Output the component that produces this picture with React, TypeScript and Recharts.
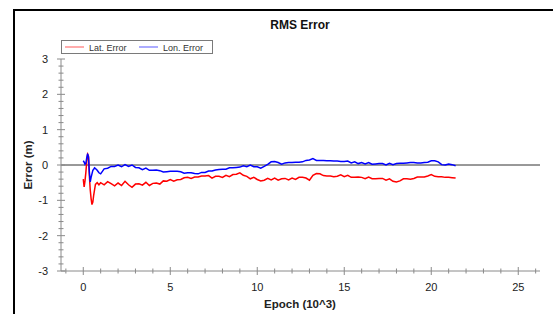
import React from "react";
import { LineChart, Line, XAxis, YAxis, ReferenceLine, Legend } from "recharts";

// Epoch in thousands
const epochs: number[] = [
  0, 0.05, 0.1, 0.15, 0.2, 0.25, 0.3, 0.35, 0.4, 0.45, 0.5, 0.55, 0.6, 0.65, 0.7, 0.8, 0.9,
  1.0, 1.2, 1.4, 1.6, 1.8, 2.0, 2.2, 2.4, 2.6, 2.8, 3.0, 3.2, 3.4, 3.6, 3.8, 4.0, 4.2, 4.4, 4.6, 4.8,
  5.0, 5.2, 5.4, 5.6, 5.8, 6.0, 6.2, 6.4, 6.6, 6.8, 7.0, 7.2, 7.4, 7.6, 7.8, 8.0, 8.2, 8.4, 8.6, 8.8,
  9.0, 9.2, 9.4, 9.6, 9.8, 10.0, 10.2, 10.4, 10.6, 10.8, 11.0, 11.2, 11.4, 11.6, 11.8, 12.0, 12.2, 12.4, 12.6, 12.8,
  13.0, 13.2, 13.4, 13.6, 13.8, 14.0, 14.2, 14.4, 14.6, 14.8, 15.0, 15.2, 15.4, 15.6, 15.8, 16.0, 16.2, 16.4, 16.6, 16.8,
  17.0, 17.2, 17.4, 17.6, 17.8, 18.0, 18.2, 18.4, 18.6, 18.8, 19.0, 19.2, 19.4, 19.6, 19.8, 20.0, 20.2, 20.4, 20.6, 20.8,
  21.0, 21.2, 21.4,
];

const latError: number[] = [
  -0.40, -0.62, -0.45, -0.20, 0.10, 0.30, 0.25, -0.30, -0.70, -0.95, -1.12, -1.05, -0.85, -0.70, -0.55, -0.50, -0.56,
  -0.50, -0.56, -0.47, -0.53, -0.59, -0.51, -0.58, -0.46, -0.56, -0.63, -0.54, -0.53, -0.57, -0.49, -0.58, -0.52, -0.51, -0.54, -0.45, -0.46,
  -0.41, -0.46, -0.42, -0.41, -0.36, -0.35, -0.38, -0.34, -0.34, -0.31, -0.31, -0.30, -0.37, -0.32, -0.32, -0.35, -0.29, -0.33, -0.27, -0.26,
  -0.22, -0.29, -0.32, -0.39, -0.35, -0.41, -0.45, -0.43, -0.38, -0.42, -0.37, -0.43, -0.39, -0.38, -0.42, -0.37, -0.41, -0.35, -0.35, -0.37,
  -0.43, -0.29, -0.24, -0.25, -0.30, -0.31, -0.31, -0.33, -0.32, -0.28, -0.33, -0.29, -0.35, -0.35, -0.34, -0.35, -0.39, -0.34, -0.39, -0.39,
  -0.38, -0.38, -0.43, -0.39, -0.46, -0.48, -0.45, -0.39, -0.39, -0.40, -0.38, -0.34, -0.34, -0.34, -0.31, -0.27, -0.32, -0.33, -0.33, -0.35,
  -0.35, -0.36, -0.37,
];

const lonError: number[] = [
  0.12, 0.08, 0.02, 0.05, 0.20, 0.32, 0.22, -0.20, -0.48, -0.35, -0.25, -0.15, -0.12, -0.08, -0.10, -0.15, -0.22,
  -0.25, -0.11, -0.09, -0.04, -0.04, 0.00, -0.05, 0.01, -0.04, 0.00, -0.07, -0.08, -0.13, -0.09, -0.15, -0.15, -0.14, -0.16, -0.20, -0.19,
  -0.18, -0.18, -0.18, -0.19, -0.23, -0.22, -0.22, -0.24, -0.25, -0.21, -0.21, -0.17, -0.17, -0.14, -0.13, -0.12, -0.12, -0.08, -0.08, -0.07,
  -0.06, -0.02, -0.05, 0.00, -0.05, -0.05, -0.09, -0.04, 0.02, 0.09, 0.10, 0.07, 0.02, 0.06, 0.07, 0.07, 0.08, 0.08, 0.09, 0.13,
  0.14, 0.18, 0.13, 0.13, 0.13, 0.12, 0.12, 0.11, 0.11, 0.10, 0.10, 0.11, 0.06, 0.09, 0.04, 0.07, 0.03, 0.07, 0.02, 0.03,
  0.04, 0.04, 0.00, 0.05, 0.01, 0.04, 0.05, 0.05, 0.06, 0.07, 0.07, 0.06, 0.06, 0.07, 0.08, 0.12, 0.12, 0.09, 0.01, 0.00,
  0.03, 0.01, -0.02,
];

const xTicks: number[] = [-1, 0, 1, 2, 3, 4, 5, 6, 7, 8, 9, 10, 11, 12, 13, 14, 15, 16, 17, 18, 19, 20, 21, 22, 23, 24, 25, 26];
const yTicks: number[] = [
  -3, -2.8, -2.6, -2.4, -2.2, -2, -1.8, -1.6, -1.4, -1.2, -1, -0.8, -0.6, -0.4, -0.2, 0,
  0.2, 0.4, 0.6, 0.8, 1, 1.2, 1.4, 1.6, 1.8, 2, 2.2, 2.4, 2.6, 2.8, 3,
];

const rows = epochs.map((e, i) => ({ epoch: e, lat: latError[i], lon: lonError[i] }));

const FONT = '"Liberation Sans", Arial, sans-serif';
const AXIS = "#8a8a8a";

const isMajor = (v: number, step: number) => Math.abs(v / step - Math.round(v / step)) < 1e-6;

const BottomTick = (props: any) => {
  const { x, y, payload } = props;
  const v = payload.value;
  const major = isMajor(v, 5);
  const h = major ? 4 : 2.5;
  return (
    <g>
      <line x1={x} x2={x} y1={y - h} y2={y + h} stroke={AXIS} />
      {major && (
        <text x={x} y={y + 20} textAnchor="middle" fontSize={11} fontFamily={FONT} fill="#222">
          {v}
        </text>
      )}
    </g>
  );
};

const TopTick = (props: any) => {
  const { x, y, payload } = props;
  const major = isMajor(payload.value, 5);
  return <line x1={x} x2={x} y1={y} y2={y + (major ? 4.5 : 3)} stroke={AXIS} />;
};

const LeftTick = (props: any) => {
  const { x, y, payload } = props;
  const v = payload.value;
  const major = isMajor(v, 1);
  const h = major ? 4 : 2.5;
  return (
    <g>
      <line x1={x - h} x2={x + h} y1={y} y2={y} stroke={AXIS} />
      {major && (
        <text x={x - 13} y={y + 4} textAnchor="end" fontSize={11} fontFamily={FONT} fill="#222">
          {Math.round(v)}
        </text>
      )}
    </g>
  );
};

const RightTick = (props: any) => {
  const { x, y, payload } = props;
  const major = isMajor(payload.value, 1);
  return <line x1={x - (major ? 4.5 : 3)} x2={x} y1={y} y2={y} stroke={AXIS} />;
};

const LegendBox = (props: any) => {
  const items = (props.payload || []) as any[];
  return (
    <svg width={152} height={14} style={{ display: "block" }}>
      <rect x={0.5} y={0.5} width={151} height={13} fill="#fff" stroke="#7a7a7a" />
      {items.map((it, i) => {
        const ox = i === 0 ? 4 : 78;
        return (
          <g key={i}>
            <line x1={ox} x2={ox + 19} y1={7} y2={7} stroke={it.color} strokeOpacity={0.55} strokeWidth={1.2} />
            <text x={ox + 24} y={10.5} fontSize={9} fontFamily={FONT} fill="#333">
              {it.value}
            </text>
          </g>
        );
      })}
    </svg>
  );
};

export default function App() {
  return (
    <div style={{ position: "absolute", left: 0, top: 0, width: 553, height: 314, background: "#fff" }}>
      <LineChart
        width={553}
        height={314}
        data={rows}
        margin={{ top: 59, right: 13, bottom: 13, left: 21 }}
      >
        <rect x={14} y={10} width={600} height={400} fill="none" stroke="#000" strokeWidth={2} />
        <XAxis
          dataKey="epoch"
          type="number"
          domain={[-1.28, 26.25]}
          allowDataOverflow
          ticks={xTicks}
          interval={0}
          height={30}
          tickSize={0}
          tickMargin={0}
          tickLine={false}
          axisLine={{ stroke: AXIS }}
          tick={<BottomTick />}
        />
        <XAxis
          xAxisId="top"
          orientation="top"
          type="number"
          domain={[-1.28, 26.25]}
          allowDataOverflow
          ticks={xTicks}
          interval={0}
          height={0}
          tickSize={0}
          tickMargin={0}
          tickLine={false}
          axisLine={{ stroke: AXIS }}
          tick={<TopTick />}
        />
        <YAxis
          type="number"
          domain={[-3, 3]}
          allowDataOverflow
          ticks={yTicks}
          interval={0}
          width={40}
          tickSize={0}
          tickMargin={0}
          tickLine={false}
          axisLine={{ stroke: AXIS }}
          tick={<LeftTick />}
        />
        <YAxis
          yAxisId="right"
          orientation="right"
          type="number"
          domain={[-3, 3]}
          allowDataOverflow
          ticks={yTicks}
          interval={0}
          width={0}
          tickSize={0}
          tickMargin={0}
          tickLine={false}
          axisLine={{ stroke: AXIS }}
          tick={<RightTick />}
        />
        <ReferenceLine y={0} stroke="#333" strokeWidth={1} />
        <Line
          type="linear"
          dataKey="lat"
          name="Lat. Error"
          stroke="#ff0000"
          strokeWidth={1.5}
          dot={false}
          isAnimationActive={false}
        />
        <Line
          type="linear"
          dataKey="lon"
          name="Lon. Error"
          stroke="#0000ff"
          strokeWidth={1.5}
          dot={false}
          isAnimationActive={false}
        />
        <Legend
          layout="vertical"
          align="center"
          verticalAlign="middle"
          content={<LegendBox />}
          wrapperStyle={{ left: 61, top: 40, width: 152, height: 14 }}
        />
        <text x={300} y={29} textAnchor="middle" fontSize={12} fontWeight="bold" fontFamily={FONT} fill="#111">
          RMS Error
        </text>
        <text x={300} y={308} textAnchor="middle" fontSize={11.5} fontWeight="bold" fontFamily={FONT} fill="#222">
          Epoch (10^3)
        </text>
        <text
          x={32}
          y={165}
          textAnchor="middle"
          fontSize={11.5}
          fontWeight="bold"
          fontFamily={FONT}
          fill="#222"
          transform="rotate(-90 32 165)"
        >
          Error (m)
        </text>
      </LineChart>
    </div>
  );
}
